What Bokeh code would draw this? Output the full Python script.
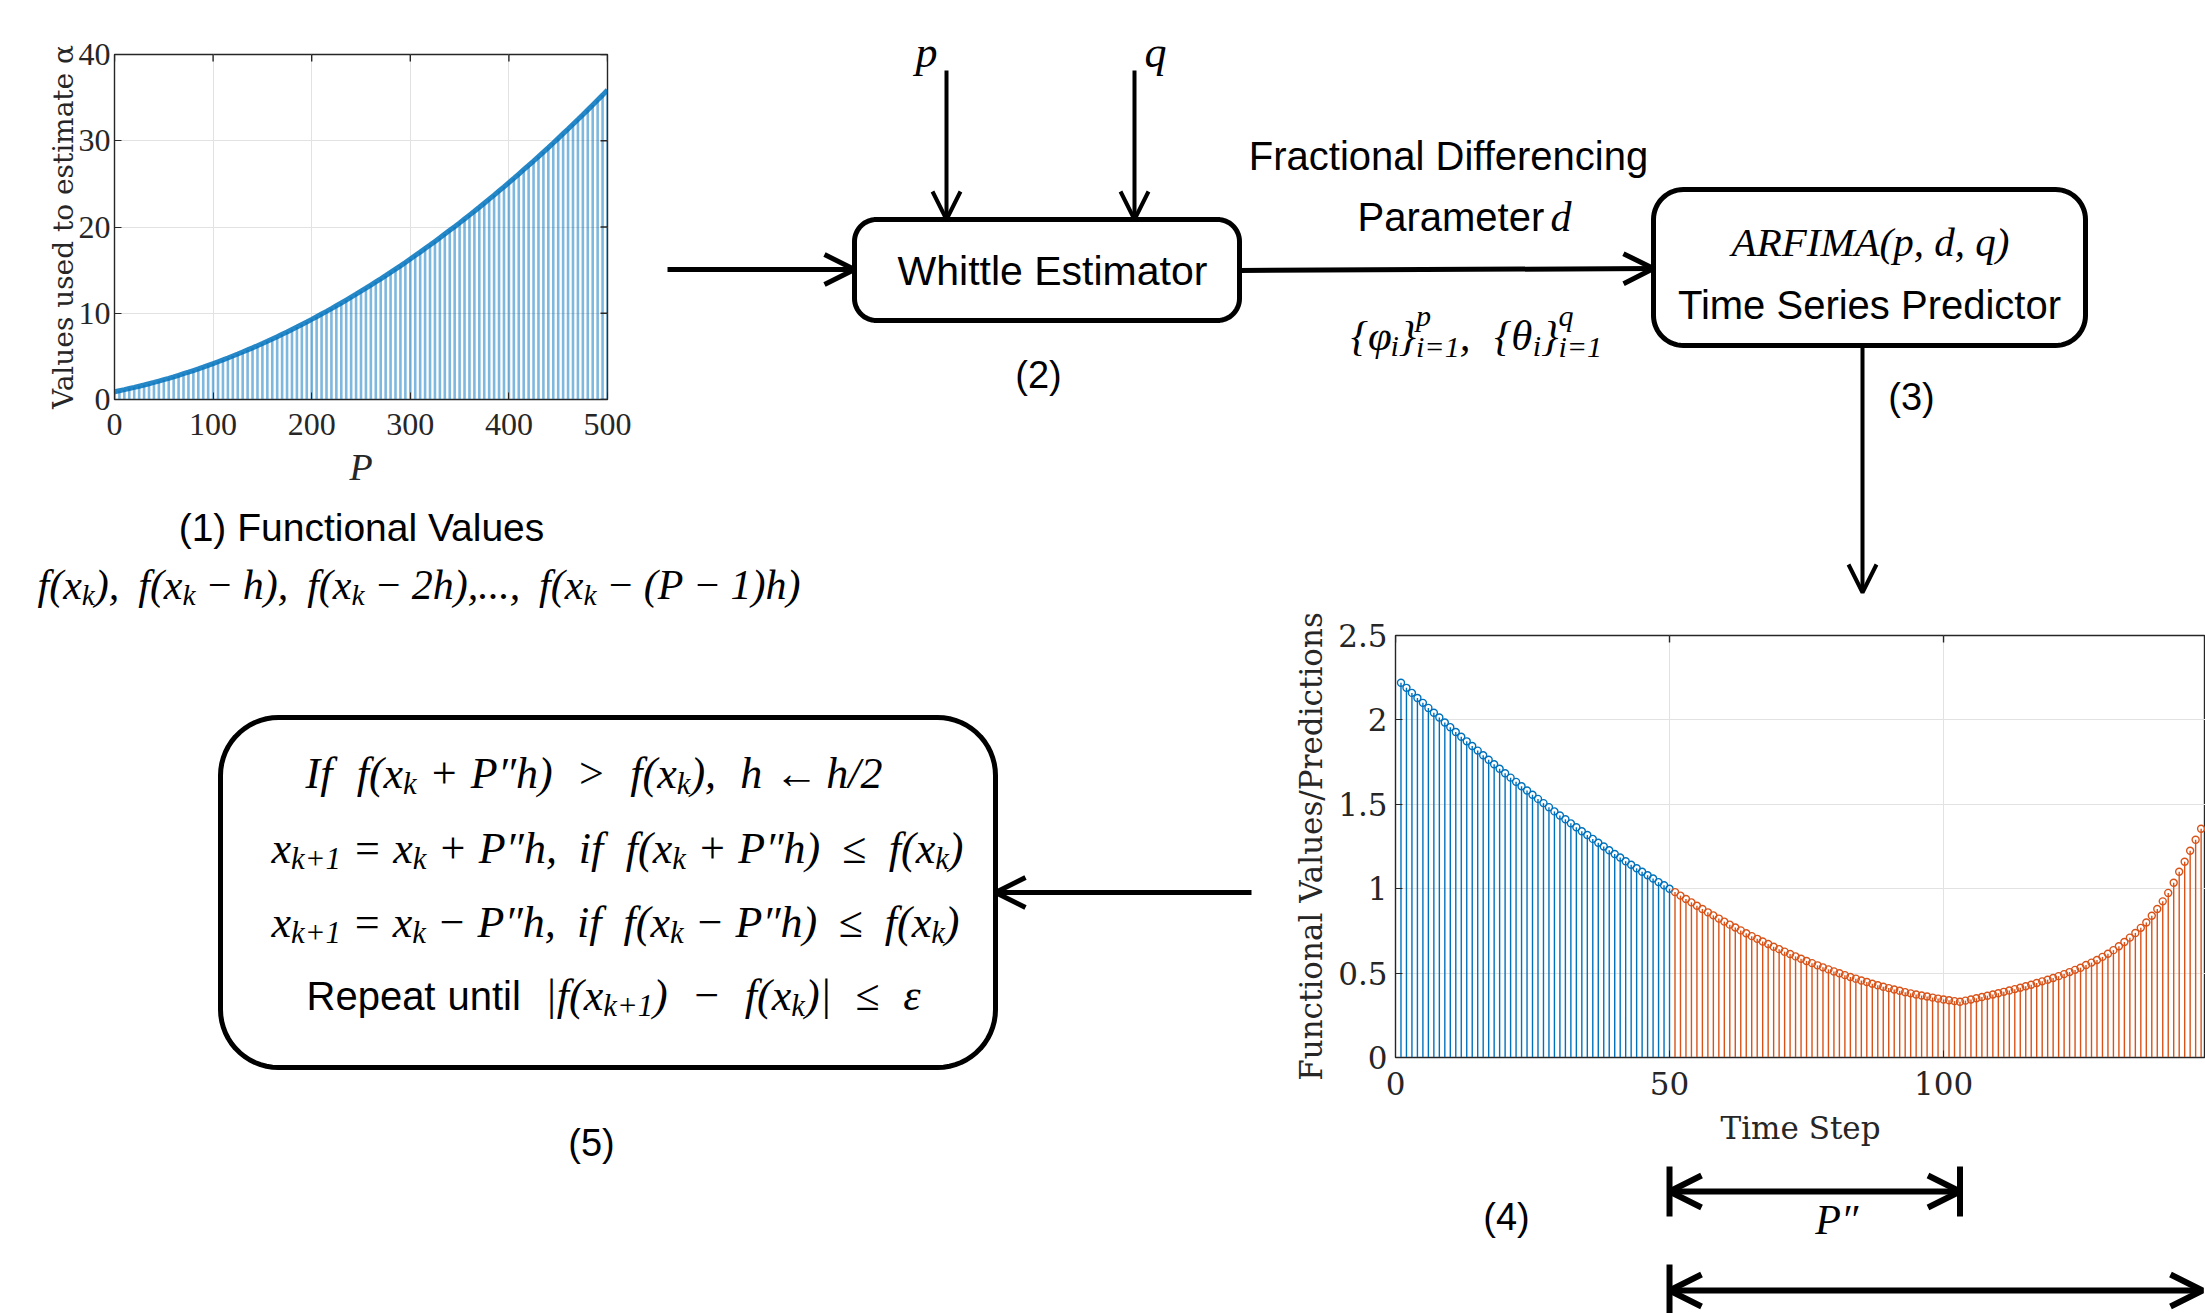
import numpy as np
from bokeh.plotting import figure
from bokeh.models import ColumnDataSource, Arrow, OpenHead, FixedTicker, GridBox, Range1d
from bokeh.embed import file_html
from bokeh.resources import INLINE
from bokeh.core.properties import value

# ---------------- data: panel (1) ----------------
window_sizes_P = list(range(0, 501, 5))
alpha_estimation_values = [
    0.90, 1.02, 1.14, 1.27, 1.40, 1.54, 1.68, 1.83, 1.98, 2.14,
    2.30, 2.46, 2.63, 2.81, 2.99, 3.17, 3.36, 3.55, 3.75, 3.96,
    4.16, 4.38, 4.59, 4.81, 5.04, 5.27, 5.51, 5.75, 5.99, 6.24,
    6.49, 6.75, 7.02, 7.28, 7.56, 7.83, 8.12, 8.40, 8.70, 8.99,
    9.29, 9.60, 9.91, 10.22, 10.54, 10.87, 11.19, 11.53, 11.87, 12.21,
    12.56, 12.91, 13.27, 13.63, 13.99, 14.36, 14.74, 15.12, 15.50, 15.89,
    16.29, 16.69, 17.09, 17.50, 17.91, 18.33, 18.75, 19.18, 19.61, 20.04,
    20.48, 20.93, 21.38, 21.83, 22.29, 22.76, 23.23, 23.70, 24.18, 24.66,
    25.15, 25.64, 26.14, 26.64, 27.14, 27.65, 28.17, 28.69, 29.21, 29.74,
    30.28, 30.82, 31.36, 31.91, 32.46, 33.02, 33.58, 34.15, 34.72, 35.29,
    35.88]
P_xticks = [0, 100, 200, 300, 400, 500]
P_xtick_labels = ["0", "100", "200", "300", "400", "500"]
alpha_yticks = [0, 10, 20, 30, 40]
alpha_ytick_labels = ["0", "10", "20", "30", "40"]

# ---------------- data: panel (4) ----------------
observed_steps = list(range(1, 51))
observed_values = [
    2.220, 2.190, 2.160, 2.130, 2.101, 2.071, 2.042, 2.014, 1.985, 1.957,
    1.928, 1.900, 1.873, 1.845, 1.818, 1.791, 1.764, 1.737, 1.711, 1.684,
    1.658, 1.633, 1.607, 1.582, 1.557, 1.532, 1.507, 1.483, 1.458, 1.434,
    1.411, 1.387, 1.364, 1.340, 1.318, 1.295, 1.272, 1.250, 1.228, 1.206,
    1.185, 1.163, 1.142, 1.121, 1.100, 1.080, 1.060, 1.039, 1.020, 1.000]
predicted_steps = list(range(51, 148))
predicted_values = [
    0.980, 0.959, 0.939, 0.919, 0.899, 0.880, 0.860, 0.842, 0.823, 0.805,
    0.787, 0.770, 0.753, 0.736, 0.719, 0.703, 0.687, 0.672, 0.656, 0.642,
    0.627, 0.613, 0.599, 0.585, 0.572, 0.559, 0.546, 0.534, 0.522, 0.510,
    0.499, 0.488, 0.477, 0.467, 0.456, 0.447, 0.437, 0.428, 0.419, 0.411,
    0.403, 0.395, 0.387, 0.380, 0.373, 0.367, 0.361, 0.355, 0.349, 0.344,
    0.339, 0.334, 0.330,
    0.337, 0.344, 0.351, 0.358, 0.366, 0.373, 0.381, 0.389, 0.397, 0.405,
    0.413, 0.422, 0.431, 0.441, 0.451, 0.461, 0.471, 0.482, 0.494, 0.506,
    0.519, 0.532, 0.548, 0.562, 0.578, 0.596, 0.615, 0.636, 0.659, 0.684,
    0.710, 0.738, 0.768, 0.800, 0.840, 0.880, 0.925, 0.975, 1.035, 1.100,
    1.160, 1.225, 1.290, 1.355]
step_xticks = [0, 50, 100, 150]
step_xtick_labels = ["0", "50", "100", "150"]
fv_yticks = [0, 0.5, 1, 1.5, 2, 2.5]
fv_ytick_labels = ["0", "0.5", "1", "1.5", "2", "2.5"]

# ---------------- layout constants ----------------
W, H = 2205, 1313
COLS = [650, 600, 955]
ROWS = [500, 88, 725]
BLUE, ORANGE = "#0072BD", "#D95319"
AX, GRID = "#262626", "#e2e2e2"
SANS, SERIF, DSERIF = "Liberation Sans", "Liberation Serif", "DejaVu Serif"
C4_LEFT_BORDER, C4_XEND = 145, 147.8


def no_align(fig):
    try:
        fig.frame_align = False
    except Exception:
        pass


def style_axes(fig, xt, xl, yt, yl, font, size, xstand, ystand):
    fig.xaxis.ticker = FixedTicker(ticks=xt)
    fig.xaxis.major_label_overrides = {t: l for t, l in zip(xt, xl)}
    fig.yaxis.ticker = FixedTicker(ticks=yt)
    fig.yaxis.major_label_overrides = {t: l for t, l in zip(yt, yl)}
    for ax, st in ((fig.xaxis, xstand), (fig.yaxis, ystand)):
        ax.major_label_text_font = font
        ax.major_label_text_font_size = f"{size}px"
        ax.major_label_text_color = AX
        ax.major_label_standoff = st
        ax.major_tick_in = 7
        ax.major_tick_out = 0
        ax.minor_tick_line_color = None
        ax.axis_line_color = AX
        ax.major_tick_line_color = AX
        ax.axis_label_text_color = AX
        ax.axis_label_text_font_style = "normal"
    fig.xgrid.grid_line_color = GRID
    fig.ygrid.grid_line_color = GRID
    fig.outline_line_color = AX
    fig.outline_line_width = 1.4


# ---------------- panel (1) chart ----------------
c1 = figure(width=COLS[0], height=ROWS[0], x_range=Range1d(0, 500), y_range=Range1d(0, 40),
            toolbar_location=None, output_backend="svg",
            min_border_left=114, min_border_right=43, min_border_top=54, min_border_bottom=101,
            border_fill_color=None, background_fill_color="white")
no_align(c1)
src1 = ColumnDataSource(dict(P=window_sizes_P, v=alpha_estimation_values))
c1.segment(x0="P", y0=0, x1="P", y1="v", source=src1, line_color=BLUE, line_alpha=0.5, line_width=2.6)
c1.line("P", "v", source=src1, line_color=BLUE, line_width=5, line_alpha=0.85)
style_axes(c1, P_xticks, P_xtick_labels, alpha_yticks, alpha_ytick_labels, SERIF, 32, 14, 4)
c1.xaxis.axis_label = "P"
c1.xaxis.axis_label_text_font = SERIF
c1.xaxis.axis_label_text_font_style = "italic"
c1.xaxis.axis_label_text_font_size = "38px"
c1.xaxis.axis_label_standoff = 8
c1.yaxis.axis_label = "Values used to estimate \u03b1"
c1.yaxis.axis_label_text_font = DSERIF
c1.yaxis.axis_label_text_font_size = "28px"
c1.yaxis.axis_label_standoff = -4
# mirrored box ticks (top / right), half of each dash is clipped by the frame
c1.scatter(x=P_xticks, y=[alpha_yticks[-1]] * len(P_xticks), marker="dash", angle=np.pi / 2,
           size=14, line_color=AX, line_width=1.4)
c1.scatter(x=[P_xticks[-1]] * len(alpha_yticks), y=alpha_yticks, marker="dash",
           size=14, line_color=AX, line_width=1.4)

# ---------------- panel (4) chart ----------------
c4 = figure(width=COLS[2], height=ROWS[2], x_range=Range1d(0, C4_XEND), y_range=Range1d(0, 2.5),
            toolbar_location=None, output_backend="svg",
            min_border_left=C4_LEFT_BORDER, min_border_right=0, min_border_top=47, min_border_bottom=256,
            border_fill_color=None, background_fill_color="white")
no_align(c4)
srcb = ColumnDataSource(dict(t=observed_steps, v=observed_values))
srco = ColumnDataSource(dict(t=predicted_steps, v=predicted_values))
for src, col in ((srcb, BLUE), (srco, ORANGE)):
    c4.segment(x0="t", y0=0, x1="t", y1="v", source=src, line_color=col, line_width=1.4)
    c4.scatter("t", "v", source=src, marker="circle", size=7, fill_alpha=0, line_color=col, line_width=1.4)
style_axes(c4, step_xticks, step_xtick_labels, fv_yticks, fv_ytick_labels, DSERIF, 31, 14, 8)
c4.xaxis.axis_label = "Time Step"
c4.xaxis.axis_label_text_font = DSERIF
c4.xaxis.axis_label_text_font_size = "31px"
c4.xaxis.axis_label_standoff = 12
c4.yaxis.axis_label = "Functional Values/Predictions"
c4.yaxis.axis_label_text_font = DSERIF
c4.yaxis.axis_label_text_font_size = "31px"
c4.yaxis.axis_label_standoff = 6
c4.scatter(x=step_xticks, y=[fv_yticks[-1]] * len(step_xticks), marker="dash", angle=np.pi / 2,
           size=14, line_color=AX, line_width=1.4)

# ---------------- diagram canvas ----------------
D = figure(width=W, height=H, x_range=Range1d(0, W), y_range=Range1d(H, 0),
           x_axis_type=None, y_axis_type=None, toolbar_location=None, output_backend="svg",
           min_border=0, outline_line_color=None, background_fill_color="white", border_fill_color="white")
no_align(D)

TIMES_I = {' ': .25, '(': .333, ')': .333, '+': .675, ',': .25, '.': .25, '/': .278, '1': .5, '2': .5,
           '=': .675, '>': .675, '|': .275, '{': .4, '}': .4, 'A': .611, 'F': .611, 'I': .333, 'M': .833,
           'P': .611, 'R': .611, 'd': .5, 'f': .278, 'h': .5, 'i': .278, 'k': .444, 'p': .5, 'q': .5,
           'x': .444, '\u2212': .675, '\u2264': .549, '\u2190': .9, '\u03b5': .44, '\u03c6': .52,
           '\u03b8': .5, '\u2033': .4}
ARIAL = {'P': .667, 'a': .556, 'r': .333, 'm': .833, 'e': .556, 't': .278, ' ': .278, 'R': .722,
         'p': .556, 'u': .556, 'n': .556, 'i': .222, 'l': .222}


def tw(s, table):
    return sum(table.get(c, 0.5) for c in s)


def txt(x, y, s, size, font=SANS, style="normal", align="center"):
    """y is the vertical middle of the text line."""
    D.text(x=[x], y=[y], text=[s], text_font=value(font), text_font_size=f"{size:.1f}px",
           text_font_style=style, text_align=align, text_baseline="middle", text_color="black")


def math_line(pieces, x0, x1, yc, size, nsize=None):
    """Lay out a formula from word tokens; extra width goes into the spaces."""
    nsize = nsize or size
    toks = []  # (text, kind, spaces before)
    for t, kind in pieces:
        if kind in ("m", "n"):
            pending = 0
            for i, w in enumerate(t.split(" ")):
                if i > 0:
                    pending += 1
                if w == "":
                    continue
                toks.append((w, kind, pending))
                pending = 0
            if pending:
                toks.append(("", kind, pending))
        else:
            toks.append((t, kind, 0))

    def width(t, kind):
        if kind == "n":
            return tw(t, ARIAL) * nsize
        if kind == "m":
            return tw(t, TIMES_I) * size
        if kind == "s":
            return tw(t, TIMES_I) * size * 0.7
        return max(tw(t[0], TIMES_I), tw(t[1], TIMES_I)) * size * 0.7

    def space(kind):
        return 0.278 * nsize if kind == "n" else 0.25 * size

    natural = sum(width(t, k) + n * space(k) for t, k, n in toks)
    nsp = sum(n for _, _, n in toks)
    extra = (x1 - x0 - natural) / nsp if nsp else 0.0
    extra = min(extra, 0.3 * size)
    leftover = (x1 - x0) - (natural + nsp * extra)
    cum = x0 + leftover / 2
    for t, kind, n in toks:
        cum += n * (space(kind) + extra)
        if t:
            if kind == "n":
                txt(cum, yc, t, nsize, SANS, "normal", "left")
            elif kind == "m":
                txt(cum, yc, t, size, SERIF, "italic", "left")
            elif kind == "s":
                txt(cum, yc + 0.24 * size, t, 0.7 * size, SERIF, "italic", "left")
            else:
                txt(cum, yc - 0.45 * size, t[0], 0.7 * size, SERIF, "italic", "left")
                txt(cum, yc + 0.26 * size, t[1], 0.7 * size, SERIF, "italic", "left")
        cum += width(t, kind)


def arrow(x0, y0, x1, y1, lw=5, size=30, both=False):
    kw = dict(end=OpenHead(size=size, line_width=lw, line_color="black"),
              x_start=x0, y_start=y0, x_end=x1, y_end=y1, line_width=lw, line_color="black")
    if both:
        kw["start"] = OpenHead(size=size, line_width=lw, line_color="black")
    D.add_layout(Arrow(**kw))


def rrect(x0, y0, x1, y1, r, lw):
    xs, ys = [], []
    for cx, cy, a0, a1 in ((x1 - r, y0 + r, -90, 0), (x1 - r, y1 - r, 0, 90),
                           (x0 + r, y1 - r, 90, 180), (x0 + r, y0 + r, 180, 270)):
        a = np.radians(np.linspace(a0, a1, 16))
        xs.extend(cx + r * np.cos(a))
        ys.extend(cy + r * np.sin(a))
    D.patch(xs, ys, fill_color="white", line_color="black", line_width=lw, line_join="round")


# boxes
rrect(854, 219, 1239, 320, 22, 5)
rrect(1653, 189, 2085, 345, 30, 5)
rrect(220, 717, 995, 1067, 58, 5)

# arrows
arrow(667, 269, 854, 269, 5, 30)
arrow(946, 70, 946, 219, 4, 28)
arrow(1134, 70, 1134, 219, 4, 28)
arrow(1239, 270, 1653, 268, 5, 30)
arrow(1862, 345, 1862, 592, 4, 28)
arrow(1251, 892, 995, 892, 5, 30)

# dimension arrows under panel (4), tied to the time-step axis
C4_FRAME_LEFT = COLS[0] + COLS[1] + C4_LEFT_BORDER
C4_XSCALE = (COLS[2] - C4_LEFT_BORDER) / C4_XEND


def step_to_x(t):
    return C4_FRAME_LEFT + t * C4_XSCALE


x_pp0 = step_to_x(observed_steps[-1])
x_pp1 = step_to_x(predicted_steps[int(np.argmin(predicted_values))])
arrow(x_pp0, 1191, x_pp1, 1191, 6, 32, both=True)
D.segment(x0=[x_pp0, x_pp1], y0=[1166, 1166], x1=[x_pp0, x_pp1], y1=[1216, 1216],
          line_color="black", line_width=6)
arrow(x_pp0, 1290, W - 3, 1290, 6, 32, both=True)
D.segment(x0=[x_pp0], y0=[1264], x1=[x_pp0], y1=[H], line_color="black", line_width=6)
txt((x_pp0 + x_pp1) / 2 + 22, 1219, "P\u2033", 42, SERIF, "italic", "center")

# texts
txt(1052, 270, "Whittle Estimator", 41)
txt(1448, 155, "Fractional Differencing", 40)
math_line([("Parameter ", "n"), ("d", "m")], 1357, 1571, 216, 42, 40)
txt(1870, 241, "ARFIMA(p, d, q)", 41, SERIF, "italic")
txt(1869, 304, "Time Series Predictor", 40)
math_line([("{\u03c6", "m"), ("i", "s"), ("}", "m"), (("p", "i=1"), "sp"),
           (", {\u03b8", "m"), ("i", "s"), ("}", "m"), (("q", "i=1"), "sp")],
          1348, 1604, 335, 43)
txt(926, 52, "p", 44, SERIF, "italic")
txt(1155, 52, "q", 44, SERIF, "italic")
txt(1038, 374, "(2)", 38)
txt(1911, 396, "(3)", 38)
txt(1506, 1216, "(4)", 38)
txt(591, 1142, "(5)", 38)
txt(361, 527, "(1) Functional Values", 39)
math_line([("f(x", "m"), ("k", "s"), ("),  f(x", "m"), ("k", "s"), (" \u2212 h),  f(x", "m"), ("k", "s"),
           (" \u2212 2h),...,  f(x", "m"), ("k", "s"), (" \u2212 (P \u2212 1)h)", "m")],
          37, 800, 584, 42)

# box (5) lines
math_line([("If  f(x", "m"), ("k", "s"), (" + P\u2033h)  >  f(x", "m"), ("k", "s"), ("),  h \u2190 h/2", "m")],
          305, 882, 773, 44)
math_line([("x", "m"), ("k+1", "s"), (" = x", "m"), ("k", "s"), (" + P\u2033h,  if  f(x", "m"), ("k", "s"),
           (" + P\u2033h)  \u2264  f(x", "m"), ("k", "s"), (")", "m")],
          271, 963, 848, 44)
math_line([("x", "m"), ("k+1", "s"), (" = x", "m"), ("k", "s"), (" \u2212 P\u2033h,  if  f(x", "m"), ("k", "s"),
           (" \u2212 P\u2033h)  \u2264  f(x", "m"), ("k", "s"), (")", "m")],
          271, 959, 922, 44)
math_line([("Repeat until  ", "n"), ("|f(x", "m"), ("k+1", "s"), (")  \u2212  f(x", "m"), ("k", "s"),
           (")|  \u2264  \u03b5", "m")],
          306, 922, 995, 44, 40)

# zero-size outer tracks keep the three figures from sharing grid edges (no frame alignment)
layout = GridBox(children=[(D, 0, 0, 5, 5), (c1, 1, 1, 1, 1), (c4, 3, 3, 1, 1)],
                 rows=["0px"] + [f"{r}px" for r in ROWS] + ["0px"],
                 cols=["0px"] + [f"{c}px" for c in COLS] + ["0px"], spacing=0)

open("out.html", "w").write(file_html(layout, INLINE))
